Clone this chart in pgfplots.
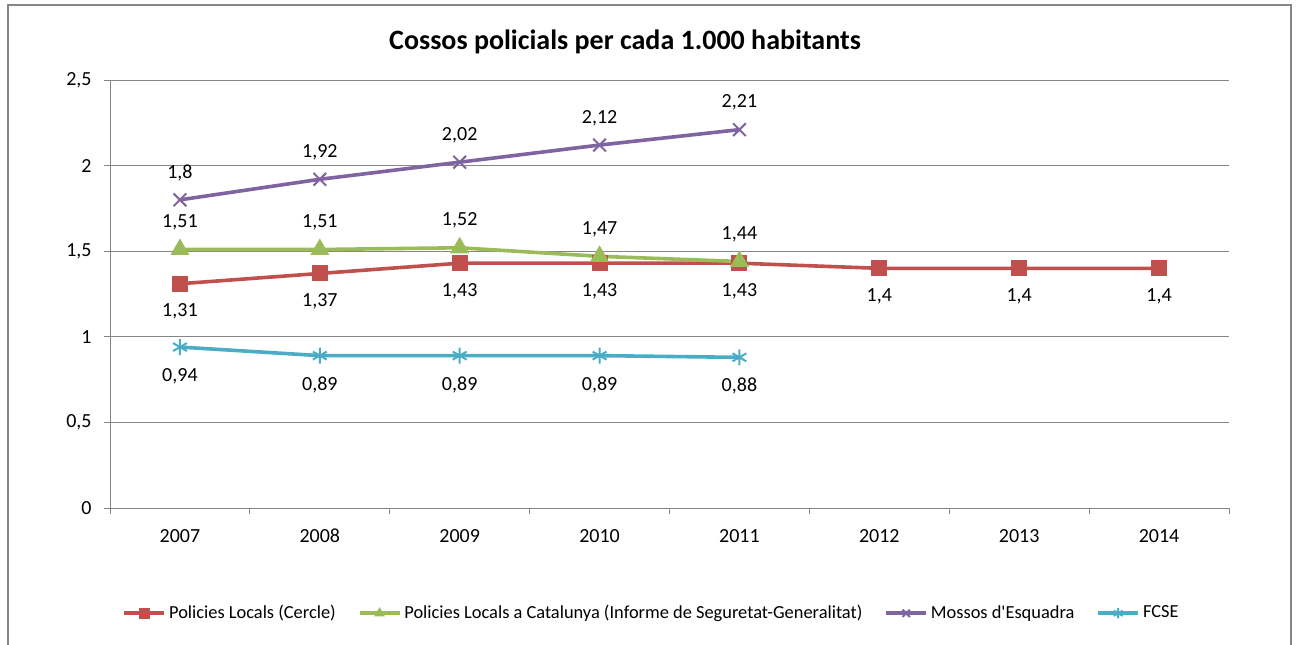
\documentclass[border=0pt]{standalone}
\usepackage{fontspec}
\setmainfont{Carlito}
\usepackage{pgfplots}
\pgfplotsset{compat=1.18}
\definecolor{cred}{HTML}{C0504D}
\definecolor{cgreen}{HTML}{9BBB59}
\definecolor{cpurple}{HTML}{8064A2}
\definecolor{ccyan}{HTML}{4BACC6}
\definecolor{gridgray}{HTML}{868686}
\begin{document}
\begin{tikzpicture}[font=\fontsize{10pt}{12pt}\selectfont]
\path[use as bounding box] (0,0) rectangle (649pt,322pt);
\draw[color=gridgray, line width=1pt] (3.75pt,-2pt) -- (3.75pt,319.25pt) -- (645.5pt,319.25pt) -- (645.5pt,-2pt);
\node[font=\fontsize{14pt}{16pt}\selectfont\bfseries] at (312.5pt,301pt) {Cossos policials per cada 1.000 habitants};
\begin{axis}[
  at={(55pt,68pt)}, anchor=south west, scale only axis,
  width=559.5pt, height=214pt,
  xmin=-0.5, xmax=7.5, ymin=0, ymax=2.5,
  xtick={-0.5,0.5,1.5,2.5,3.5,4.5,5.5,6.5,7.5},
  xticklabels={},
  extra x ticks={0,1,2,3,4,5,6,7},
  extra x tick labels={2007,2008,2009,2010,2011,2012,2013,2014},
  extra x tick style={major tick length=0pt},
  xticklabel style={anchor=north, inner sep=0pt, text height=7pt, text depth=0pt, yshift=-10pt},
  yticklabel style={anchor=east, inner sep=0pt, xshift=-6pt},
  ytick={0,0.5,1,1.5,2,2.5},
  ymajorgrids, grid style={gridgray, line width=0.5pt},
  axis lines*=left, axis line style={gridgray, line width=0.5pt},
  tick align=outside, major tick length=3pt,
  tick style={gridgray, line width=0.5pt},
  tick label style={black},
  /pgf/number format/assume math mode=true,
  /pgf/number format/use comma,
  clip=false,
  legend columns=4,
  legend style={at={(0.4844,-0.246)}, anchor=center, draw=none, fill=none,
    font=\fontsize{9.2pt}{11pt}\selectfont,
    /tikz/every even column/.append style={column sep=9.5pt},
    nodes={inner sep=1.5pt}},
  legend image code/.code={\draw[mark repeat=2,mark phase=2, mark size=2.6pt] plot coordinates {(0pt,0pt) (10pt,0pt) (20pt,0pt)};},
]
\addplot[cred, line width=1.8pt, mark=square*, mark size=3.75pt,
  mark options={solid, fill=cred, line width=0.5pt},
  nodes near coords, every node near coord/.append style={anchor=center, yshift=-14pt, text=black}]
  coordinates {(0,1.31) (1,1.37) (2,1.43) (3,1.43) (4,1.43) (5,1.4) (6,1.4) (7,1.4)};
\addlegendentry{Policies Locals (Cercle)}
\addplot[cgreen, line width=1.8pt, mark=triangle*, mark size=5pt,
  mark options={solid, fill=cgreen, line width=0.5pt},
  nodes near coords, every node near coord/.append style={anchor=center, yshift=13.5pt, text=black}]
  coordinates {(0,1.51) (1,1.51) (2,1.52) (3,1.47) (4,1.44)};
\addlegendentry{Policies Locals a Catalunya (Informe de Seguretat-Generalitat)}
\addplot[cpurple, line width=1.8pt, mark=x, mark size=4.5pt,
  mark options={solid, line width=1pt},
  nodes near coords, every node near coord/.append style={anchor=center, yshift=13.5pt, text=black}]
  coordinates {(0,1.8) (1,1.92) (2,2.02) (3,2.12) (4,2.21)};
\addlegendentry{Mossos d\textquotesingle Esquadra}
\addplot[ccyan, line width=1.8pt, mark=asterisk, mark size=4pt,
  mark options={solid, line width=1pt},
  nodes near coords, every node near coord/.append style={anchor=center, yshift=-14.5pt, text=black}]
  coordinates {(0,0.94) (1,0.89) (2,0.89) (3,0.89) (4,0.88)};
\addlegendentry{FCSE}
\end{axis}
\end{tikzpicture}
\end{document}
